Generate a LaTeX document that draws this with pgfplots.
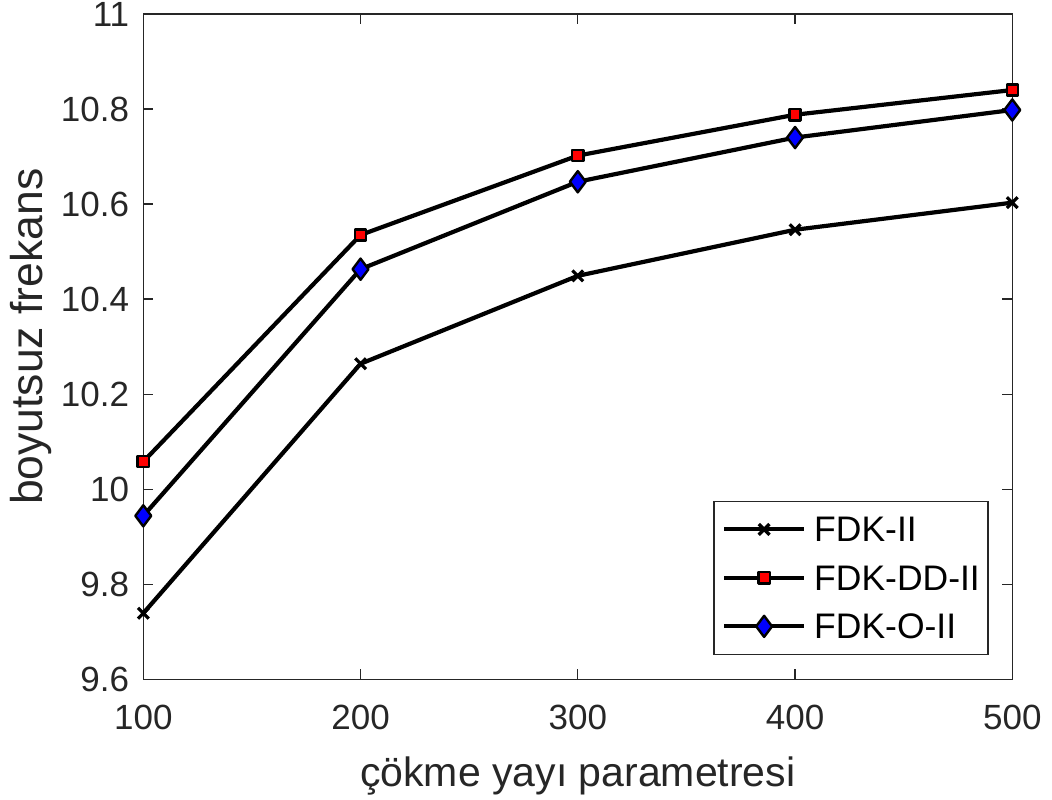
\documentclass[border=0pt]{standalone}
\usepackage{pgfplots}
\pgfplotsset{compat=1.18}
\usepackage{fontspec}
\setmainfont{Liberation Sans}
\definecolor{axgray}{gray}{0.15}

\begin{document}
\begin{tikzpicture}[x=1pt,y=1pt]
\path[use as bounding box] (-143.3,-120.7) rectangle (908.7,679.3);
\begin{axis}[
  at={(0,0)}, anchor=south west,
  scale only axis, width=869pt, height=665.3pt,
  xmin=100, xmax=500, ymin=9.6, ymax=11,
  xtick={100,200,300,400,500},
  ytick={9.6,9.8,10,10.2,10.4,10.6,10.8,11},
  yticklabels={9.6,9.8,10,10.2,10.4,10.6,10.8,11},
  clip=false,
  tick align=inside, major tick length=10pt,
  axis line style={axgray, line width=1.3pt},
  every tick/.style={axgray, line width=1.3pt},
  /pgf/number format/assume math mode=true,
  tick label style={font=\fontsize{35}{42}\selectfont, text=axgray, inner sep=0pt},
  xticklabel style={yshift=-26pt},
  yticklabel style={xshift=-14pt},
  xlabel={çökme yayı parametresi},
  ylabel={boyutsuz frekans},
  xlabel style={font=\fontsize{41}{48}\selectfont, text=axgray, inner sep=0pt,
    at={(axis description cs:0.5,-0.1604)}, anchor=base},
  ylabel style={font=\fontsize{44.5}{52}\selectfont, text=axgray, inner sep=0pt,
    at={(axis description cs:-0.1160,0.515)}, anchor=base},
  legend cell align=left,
  legend image code/.code={%
    \draw[mark repeat=2, mark phase=2, #1]
      plot coordinates {(0pt,0pt) (40pt,0pt) (80pt,0pt)};%
  },
  legend style={at={(axis description cs:0.656,0.2684)}, anchor=north west,
    draw=axgray, line width=1.3pt, fill=white,
    font=\fontsize{35.5}{42}\selectfont, text=black,
    inner xsep=8pt, inner ysep=15.5pt, row sep=23.5pt, column sep=8pt,
    nodes={inner sep=0pt, text height=25pt, text depth=0pt}},
  every axis plot/.append style={black, line width=4.2pt, line join=round},
]
\addplot[mark=x, mark size=7.6pt, mark options={line width=3.2pt, solid}]
  coordinates {(100,9.739) (200,10.264) (300,10.449) (400,10.546) (500,10.603)};
\addlegendentry{FDK-II}
\addplot[mark=square*, mark size=5.6pt, mark options={fill=red, draw=black, line width=2.4pt, solid}]
  coordinates {(100,10.058) (200,10.535) (300,10.702) (400,10.788) (500,10.840)};
\addlegendentry{FDK-DD-II}
\addplot[mark=diamond*, mark size=10.6pt, mark options={fill=blue, draw=black, line width=2.4pt, solid}]
  coordinates {(100,9.944) (200,10.463) (300,10.647) (400,10.740) (500,10.798)};
\addlegendentry{FDK-O-II}
\end{axis}
\end{tikzpicture}
\end{document}
